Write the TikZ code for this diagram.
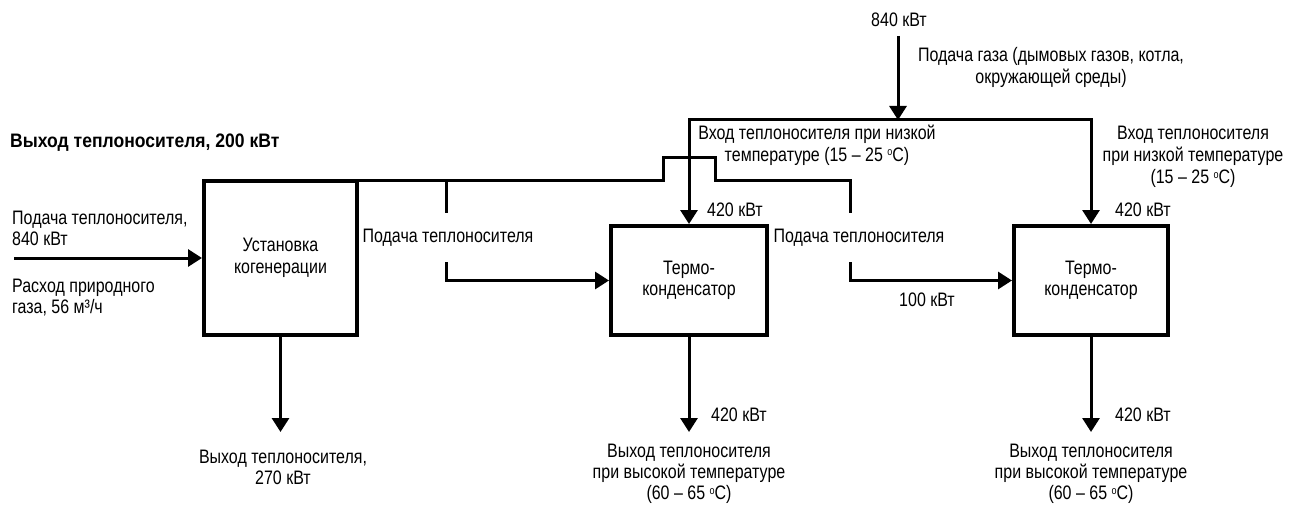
\documentclass[tikz,border=0pt]{standalone}
\usepackage{fontspec}
\setmainfont{Liberation Sans}[FakeStretch=0.82]
\newfontfamily\boldsans{Liberation Sans}[FakeStretch=0.90]
\newcommand{\degsym}{\raisebox{5.5pt}{\fontsize{11}{11}\selectfont o}}
\usetikzlibrary{arrows.meta}
\begin{document}
\begin{tikzpicture}[x=1pt,y=-1pt,
  txt/.style={inner sep=0pt, font=\fontsize{19.5}{21}\selectfont, align=center, text=black},
  block/.style={draw, line width=4pt, inner sep=0pt, font=\fontsize{19.5}{21.5}\selectfont, align=center},
  conn/.style={line width=3pt},
  arr/.style={-{Triangle[width=17pt,length=14pt]}}]
\useasboundingbox (0,0) rectangle (1300,505);

% blocks
\node[block, minimum width=153pt, minimum height=154pt] (cog) at (280.5,258) {Установка\\когенерации};
\node[block, minimum width=156pt, minimum height=109pt] (tc1) at (689,280.5) {Термо-\\конденсатор};
\node[block, minimum width=154pt, minimum height=109pt] (tc2) at (1091,280.5) {Термо-\\конденсатор};

% coordinates
\coordinate (s1) at (663,181);
\coordinate (s2) at (663,158);
\coordinate (s3) at (715,158);
\coordinate (s4) at (715,181);
\coordinate (b1j) at (446,181);
\coordinate (b1top) at (446,213);
\coordinate (b2top) at (850,213);
\coordinate (b1low) at (446,262);
\coordinate (b2low) at (850,262);
\coordinate (gtop) at (898,36);
\coordinate (gsp) at (898,120);
\coordinate (inL) at (14,258);
\coordinate (obot) at (0,432);

% heat carrier line
\draw[conn] (cog.north east |- s1) -- (s1) -- (s2) -- (s3) -- (s4) -| (b2top);
\draw[conn] (b1j) -- (b1top);
\draw[conn,arr] (b1low) |- (tc1.west);
\draw[conn,arr] (b2low) |- (tc2.west);

% gas supply
\draw[conn,arr] (gtop) -- (gsp);
\draw[conn,arr] (gsp) -| (tc1.north);
\draw[conn,arr] (gsp) -| (tc2.north);

% input and outputs
\draw[conn,arr] (inL) -- (cog.west);
\draw[conn,arr] (cog.south) -- (cog.south |- obot);
\draw[conn,arr] (tc1.south) -- (tc1.south |- obot);
\draw[conn,arr] (tc2.south) -- (tc2.south |- obot);

% labels
\node[txt, anchor=west, font=\boldsans\bfseries\fontsize{19.5}{21}\selectfont] (lout200) at (10,143) {Выход теплоносителя, 200 кВт};
\node[txt, anchor=west, align=left] (lin840) at (12,228) {Подача теплоносителя,\\840 кВт};
\node[txt, anchor=west, align=left] (lgas56) at (12,298) {Расход природного\\газа, 56 м³/ч};
\node[txt] (lout270) at (283,467) {Выход теплоносителя,\\270 кВт};
\node[txt] (lsup1) at (448,238) {Подача теплоносителя};
\node[txt] (lsup2) at (859,238) {Подача теплоносителя};
\node[txt] (l100) at (927,300) {100 кВт};
\node[txt] (l840) at (899,20) {840 кВт};
\node[txt, font=\fontsize{19.5}{22}\selectfont] (lgas) at (1051,67) {Подача газа (дымовых газов, котла,\\окружающей среды)};
\node[txt, font=\fontsize{19.5}{22}\selectfont] (lin1) at (817,145) {Вход теплоносителя при низкой\\температуре (15 – 25 \degsym C)};
\node[txt, font=\fontsize{19.5}{22}\selectfont] (lin2) at (1193,157) {Вход теплоносителя\\при низкой температуре\\(15 – 25 \degsym C)};
\node[txt, anchor=west] (l420a) at (707,210) {420 кВт};
\node[txt, anchor=west] (l420b) at (1115,210) {420 кВт};
\node[txt, anchor=west] (l420c) at (711,415) {420 кВт};
\node[txt, anchor=west] (l420d) at (1115,415) {420 кВт};
\node[txt] (lhot1) at (689,474) {Выход теплоносителя\\при высокой температуре\\(60 – 65 \degsym C)};
\node[txt] (lhot2) at (1091,474) {Выход теплоносителя\\при высокой температуре\\(60 – 65 \degsym C)};
\end{tikzpicture}
\end{document}
